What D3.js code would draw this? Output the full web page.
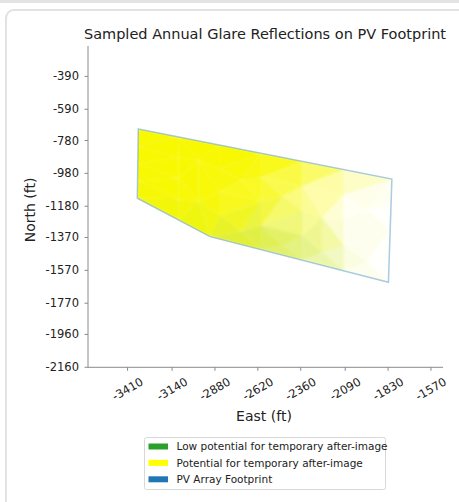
<!DOCTYPE html>
<html><head><meta charset="utf-8">
<script src="https://cdn.jsdelivr.net/npm/d3@7"></script>
<style>
body{margin:0;background:#fff;width:459px;height:502px;overflow:hidden;position:relative;font-family:"DejaVu Sans",sans-serif;}
#band{position:absolute;left:0;top:0;width:459px;height:3px;background:#e4e4e4;}
#card{position:absolute;left:5px;top:9px;width:520px;height:560px;border:2px solid #e2e2e2;border-radius:9px;box-sizing:border-box;}
svg{position:absolute;left:0;top:0;}
</style></head>
<body><div id="band"></div><div id="card"></div>
<script>
const title = "Sampled Annual Glare Reflections on PV Footprint";
const xTicks = [-3410,-3140,-2880,-2620,-2360,-2090,-1830,-1570];
const yTicks = [-390,-590,-780,-980,-1180,-1370,-1570,-1770,-1960,-2160];
const legendLabels = ["Low potential for temporary after-image","Potential for temporary after-image","PV Array Footprint"];
const legendColors = ["#2ca02c","#ffff00","#1f77b4"];

// PV array footprint polygon (East, North in ft)
const footprintEast  = [-3345,-1807,-1828,-2910,-3351];
const footprintNorth = [-710,-1015,-1642,-1365,-1131];

// Sampled glare points: east, north, glare level (opacity), low-potential share
const sampleEast  = [-3345,-3350,-3350,-3350,-3351,
                     -3100,-3100,-3100,-3100,-3100,
                     -2850,-2850,-2850,-2850,-2910,
                     -2600,-2600,-2600,-2600,-2600,
                     -2350,-2350,-2350,-2350,-2350,
                     -2100,-2100,-2100,-2100,-2100,
                     -1807,-1815,-1820,-1825,-1828,
                     -2980,-2720,-2470,-2230,-1960,
                     -2980,-2720,-2470,-2230,-1960];
const sampleNorth = [-710,-816,-920,-1024,-1131,
                     -758,-884,-1010,-1137,-1263,
                     -808,-951,-1094,-1237,-1365,
                     -857,-1004,-1150,-1297,-1444,
                     -907,-1057,-1207,-1358,-1508,
                     -956,-1110,-1264,-1418,-1572,
                     -1015,-1170,-1325,-1483,-1642,
                     -900,-1020,-1120,-1250,-1200,
                     -1150,-1330,-1420,-1460,-1520];
const sampleLevel = [1.00,1.00,1.00,1.00,0.98,
                     1.00,1.00,0.98,0.97,0.95,
                     1.00,0.97,0.94,0.92,0.90,
                     1.00,0.88,0.78,0.75,0.70,
                     0.80,0.50,0.32,0.50,0.45,
                     0.45,0.08,0.00,0.15,0.15,
                     0.12,0.00,0.00,0.00,0.00,
                     1.00,0.92,0.70,0.40,0.05,
                     0.97,0.88,0.68,0.52,0.05];
const sampleLow   = [0.00,0.00,0.00,0.00,0.05,
                     0.00,0.00,0.00,0.00,0.08,
                     0.00,0.00,0.00,0.03,0.15,
                     0.00,0.00,0.00,0.20,0.30,
                     0.00,0.00,0.00,0.28,0.35,
                     0.00,0.00,0.00,0.30,0.30,
                     0.00,0.00,0.00,0.00,0.00,
                     0.00,0.00,0.00,0.00,0.00,
                     0.00,0.18,0.30,0.30,0.10];

const W=459,H=502;
const svg=d3.select("body").append("svg").attr("width",W).attr("height",H);
const x=d3.scaleLinear().domain([-3650,-1497]).range([88,443]);
const y=d3.scaleLinear().domain([-2160,-205]).range([367.3,46]);

const ff='"DejaVu Sans",sans-serif';
svg.append("text").attr("x",265).attr("y",39).attr("text-anchor","middle")
  .attr("font-family",ff).attr("font-size",14.5).attr("fill","#222").text(title);

const defs=svg.append("defs");
const polyPts=footprintEast.map((e,i)=>[x(e),y(footprintNorth[i])]);
defs.append("clipPath").attr("id","fp").append("path").attr("d","M"+polyPts.join("L")+"Z");
defs.append("filter").attr("id","soft").append("feGaussianBlur").attr("stdDeviation",1.0);

const pts=sampleEast.map((e,i)=>[x(e),y(sampleNorth[i])]);
const del=d3.Delaunay.from(pts);
const tri=del.triangles;
const yel=d3.rgb("#f8f800"), grn=d3.rgb("#6cc048");
const outer=svg.append("g").attr("clip-path","url(#fp)");
const g=outer.append("g").attr("filter","url(#soft)");
for(let t=0;t<tri.length;t+=3){
  const a=tri[t],b=tri[t+1],c=tri[t+2];
  const lv=(sampleLevel[a]+sampleLevel[b]+sampleLevel[c])/3;
  const lo=(sampleLow[a]+sampleLow[b]+sampleLow[c])/3;
  const col=d3.interpolateRgb(yel,grn)(lo);
  g.append("path").attr("d","M"+[pts[a],pts[b],pts[c]].join("L")+"Z")
   .attr("fill",col).attr("fill-opacity",lv);
}
svg.append("path").attr("d","M"+polyPts.join("L")+"Z").attr("fill","none")
  .attr("stroke","#1f77b4").attr("stroke-opacity",0.38).attr("stroke-width",1.5);

// axes
const axc="#8a8a8a";
svg.append("line").attr("x1",88).attr("x2",88).attr("y1",46).attr("y2",367.3).attr("stroke",axc).attr("stroke-width",1);
svg.append("line").attr("x1",88).attr("x2",443).attr("y1",367.3).attr("y2",367.3).attr("stroke",axc).attr("stroke-width",1);
yTicks.forEach(v=>{
  svg.append("line").attr("x1",84.5).attr("x2",88).attr("y1",y(v)).attr("y2",y(v)).attr("stroke",axc);
  svg.append("text").attr("x",79).attr("y",y(v)).attr("dy","0.35em").attr("text-anchor","end")
   .attr("font-family",ff).attr("font-size",11.5).attr("fill","#222").text(v);
});
xTicks.forEach(v=>{
  svg.append("line").attr("x1",x(v)).attr("x2",x(v)).attr("y1",367.3).attr("y2",370.8).attr("stroke",axc);
  svg.append("text").attr("transform",`translate(${x(v)},389) rotate(-30)`).attr("dy","0.35em").attr("text-anchor","middle")
   .attr("font-family",ff).attr("font-size",11.5).attr("fill","#222").text(v);
});
svg.append("text").attr("x",264).attr("y",421).attr("text-anchor","middle")
  .attr("font-family",ff).attr("font-size",14).attr("fill","#222").text("East (ft)");
svg.append("text").attr("transform","translate(35,210) rotate(-90)").attr("text-anchor","middle")
  .attr("font-family",ff).attr("font-size",14).attr("fill","#222").text("North (ft)");

// legend
const lg=svg.append("g");
lg.append("rect").attr("x",144.5).attr("y",437.5).attr("width",241).attr("height",52).attr("rx",2)
  .attr("fill","#fff").attr("stroke","#d8d8d8");
legendLabels.forEach((l,i)=>{
  const cy=446.5+i*16.4;
  lg.append("rect").attr("x",148.5).attr("y",cy-3).attr("width",19.5).attr("height",6).attr("fill",legendColors[i]);
  lg.append("text").attr("x",176.5).attr("y",cy).attr("dy","0.35em").attr("font-family",ff).attr("font-size",10.5)
   .attr("fill","#222").text(l);
});
</script></body></html>
